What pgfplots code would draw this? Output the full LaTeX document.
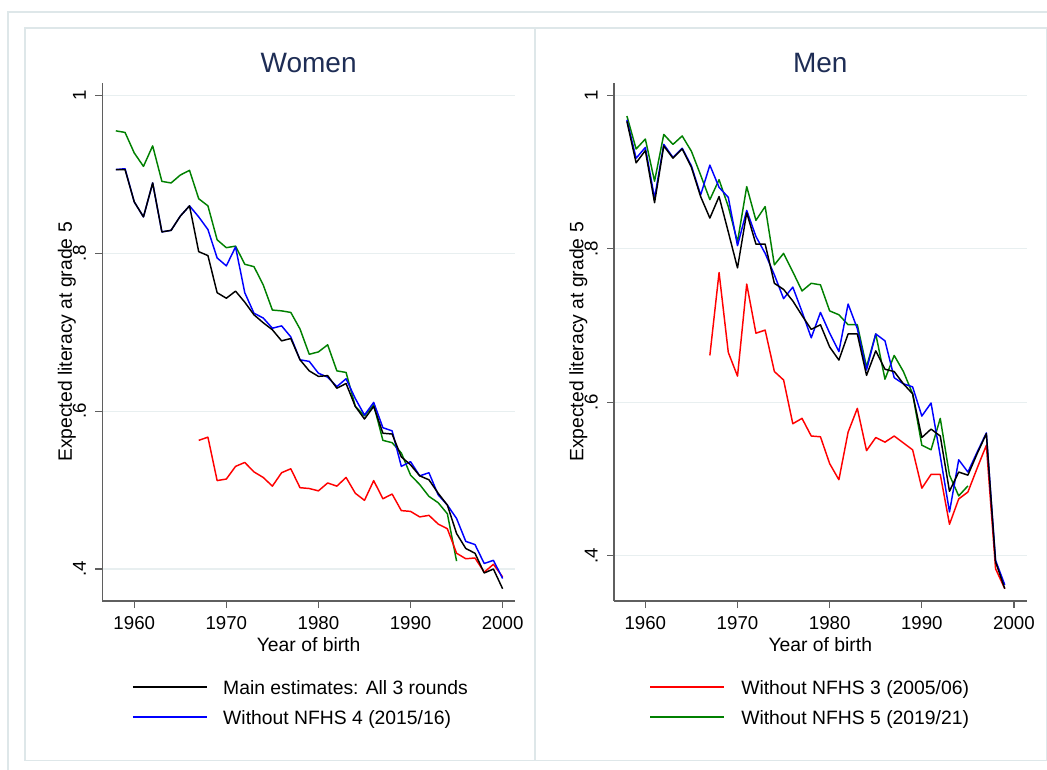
\documentclass[border=0pt]{standalone}
\usepackage{pgfplots}
\usepackage{pgfplotstable}
\pgfplotsset{compat=1.18}
\usepackage{fontspec}
\setmainfont{Liberation Sans}

\definecolor{stgreen}{RGB}{0,128,0}
\definecolor{stblue}{RGB}{0,0,255}
\definecolor{stred}{RGB}{255,0,0}
\definecolor{titlec}{RGB}{30,45,85}
\definecolor{axisc}{RGB}{95,95,95}
\definecolor{gridc}{RGB}{232,239,240}
\definecolor{framec}{RGB}{222,231,233}

% Women: expected literacy at grade 5 by year of birth
\pgfplotstableread{
year  main   wo4    wo5    wo3
1958  0.906  0.906  0.955  nan
1959  0.906  0.907  0.953  nan
1960  0.865  0.865  0.927  nan
1961  0.846  0.846  0.910  nan
1962  0.889  0.889  0.936  nan
1963  0.827  0.827  0.891  nan
1964  0.829  0.829  0.889  nan
1965  0.847  0.847  0.899  nan
1966  0.860  0.860  0.905  nan
1967  0.802  0.846  0.869  0.563
1968  0.797  0.830  0.860  0.567
1969  0.750  0.794  0.817  0.512
1970  0.743  0.784  0.807  0.514
1971  0.752  0.808  0.809  0.530
1972  0.738  0.750  0.786  0.535
1973  0.722  0.724  0.783  0.523
1974  0.712  0.718  0.760  0.516
1975  0.703  0.705  0.728  0.505
1976  0.689  0.708  0.727  0.522
1977  0.692  0.694  0.725  0.527
1978  0.665  0.665  0.704  0.503
1979  0.651  0.663  0.672  0.502
1980  0.644  0.648  0.675  0.499
1981  0.645  0.643  0.684  0.509
1982  0.629  0.631  0.651  0.505
1983  0.635  0.641  0.649  0.516
1984  0.606  0.616  0.606  0.496
1985  0.590  0.595  0.594  0.487
1986  0.606  0.611  0.608  0.512
1987  0.572  0.579  0.563  0.489
1988  0.571  0.575  0.560  0.495
1989  0.542  0.530  0.547  0.474
1990  0.532  0.536  0.519  0.473
1991  0.518  0.518  0.507  0.466
1992  0.513  0.522  0.492  0.468
1993  0.496  0.494  0.484  0.457
1994  0.481  0.481  0.470  0.451
1995  0.445  0.464  0.410  0.420
1996  0.426  0.435  nan    0.413
1997  0.420  0.431  nan    0.414
1998  0.395  0.407  nan    0.396
1999  0.400  0.411  nan    0.406
2000  0.375  0.388  nan    0.390
}\women

% Men: expected literacy at grade 5 by year of birth
\pgfplotstableread{
year  main   wo4    wo5    wo3
1958  0.966  0.968  0.973  nan
1959  0.912  0.918  0.930  nan
1960  0.928  0.932  0.943  nan
1961  0.860  0.866  0.888  nan
1962  0.934  0.936  0.949  nan
1963  0.918  0.919  0.936  nan
1964  0.930  0.931  0.947  nan
1965  0.906  0.908  0.927  nan
1966  0.868  0.870  0.896  nan
1967  0.840  0.909  0.864  0.661
1968  0.868  0.880  0.890  0.769
1969  0.822  0.867  0.855  0.665
1970  0.775  0.804  0.809  0.634
1971  0.847  0.850  0.881  0.754
1972  0.806  0.816  0.837  0.690
1973  0.806  0.794  0.855  0.694
1974  0.755  0.766  0.779  0.640
1975  0.747  0.735  0.794  0.629
1976  0.732  0.750  0.770  0.572
1977  0.713  0.718  0.745  0.579
1978  0.695  0.684  0.755  0.556
1979  0.701  0.717  0.753  0.555
1980  0.672  0.690  0.719  0.520
1981  0.655  0.666  0.714  0.499
1982  0.689  0.728  0.701  0.561
1983  0.689  0.696  0.701  0.592
1984  0.635  0.642  0.646  0.537
1985  0.667  0.689  0.689  0.554
1986  0.643  0.680  0.630  0.548
1987  0.640  0.632  0.661  0.556
1988  0.624  0.624  0.640  0.547
1989  0.611  0.620  0.611  0.538
1990  0.554  0.582  0.544  0.488
1991  0.565  0.599  0.538  0.506
1992  0.556  0.530  0.579  0.506
1993  0.484  0.457  0.505  0.441
1994  0.509  0.525  0.478  0.474
1995  0.505  0.509  0.491  0.483
1996  0.533  0.535  nan    0.514
1997  0.559  0.560  nan    0.544
1998  0.392  0.394  nan    0.383
1999  0.357  0.362  nan    0.357
}\men

\pgfplotsset{
  panel/.style={
    scale only axis, width=309.5pt, height=388.5pt,
    anchor=south west,
    axis x line*=bottom, axis y line*=left,
    xtick={1960,1970,1980,1990,2000},
    xticklabels={1960,1970,1980,1990,2000},
    ytick={0.4,0.6,0.8,1},
    yticklabels={.4,.6,.8,1},
    tick align=outside, major tick length=5.25pt,
    axis line style={draw=axisc, line width=0.9pt},
    every tick/.style={draw=axisc, line width=0.9pt},
    ymajorgrids, grid style={draw=gridc, line width=0.9pt},
    tick label style={font=\fontsize{14}{16}\selectfont, text=black},
    yticklabel style={rotate=90, anchor=base},
    yticklabel shift=7pt,
    xticklabel shift=3pt,
    title style={font=\fontsize{21}{25}\selectfont, text=titlec,
      at={(axis description cs:0.5,1)}, anchor=base, yshift=1.7pt},
    label style={font=\fontsize{14.5}{17}\selectfont},
    xlabel={Year of birth},
    xlabel style={at={(axis description cs:0.5,0)}, anchor=base, yshift=-37.5pt},
    ylabel={Expected literacy at grade 5},
    ylabel style={at={(axis description cs:-0.074,0.5)}, anchor=base},
    unbounded coords=jump,
  },
  est/.style={line width=1.1pt, line join=round},
}

% legend labels below each panel
\tikzset{keytext/.style={anchor=base west, inner sep=0pt,
  font=\fontsize{14.5}{17}\selectfont}}

\begin{document}
\begin{tikzpicture}
\path[use as bounding box] (0pt,0pt) rectangle (785.25pt,-577.5pt);
% graph and panel frames
\draw[framec, line width=0.8pt] (6pt,-9pt) rectangle (800pt,-600pt);
\draw[framec, line width=0.8pt] (18.75pt,-21pt) rectangle (401.25pt,-570.5pt);
\draw[framec, line width=0.8pt] (401.25pt,-21pt) rectangle (784.6pt,-570.5pt);

\begin{axis}[panel, name=W, at={(76.725pt,-450.75pt)},
  xmin=1956.53, xmax=2001.34, ymin=0.3595, ymax=1.0156,
  title={Women}]
  \addplot[est, stgreen] table[x=year, y=wo5] {\women};
  \addplot[est, stred]   table[x=year, y=wo3] {\women};
  \addplot[est, stblue]  table[x=year, y=wo4] {\women};
  \addplot[est, black]   table[x=year, y=main] {\women};
\end{axis}

\begin{axis}[panel, name=M, at={(460.5pt,-450.75pt)}, width=309.4pt,
  xmin=1956.6, xmax=2001.36, ymin=0.341, ymax=1.016,
  title={Men}]
  \addplot[est, stgreen] table[x=year, y=wo5] {\men};
  \addplot[est, stred]   table[x=year, y=wo3] {\men};
  \addplot[est, stblue]  table[x=year, y=wo4] {\men};
  \addplot[est, black]   table[x=year, y=main] {\men};
\end{axis}

% legends
\draw[black, line width=1.1pt]  ([shift={(23pt,-64.5pt)}]W.south west) -- ++(55.5pt,0pt);
\node[keytext] at ([shift={(90.5pt,-69.75pt)}]W.south west) {Main estimates: All 3 rounds};
\draw[stblue, line width=1.1pt] ([shift={(23pt,-87pt)}]W.south west) -- ++(55.5pt,0pt);
\node[keytext] at ([shift={(90.5pt,-92.25pt)}]W.south west) {Without NFHS 4 (2015/16)};

\draw[stred, line width=1.1pt]   ([shift={(27pt,-64.5pt)}]M.south west) -- ++(55.5pt,0pt);
\node[keytext] at ([shift={(95.25pt,-69.75pt)}]M.south west) {Without NFHS 3 (2005/06)};
\draw[stgreen, line width=1.1pt] ([shift={(27pt,-87pt)}]M.south west) -- ++(55.5pt,0pt);
\node[keytext] at ([shift={(95.25pt,-92.25pt)}]M.south west) {Without NFHS 5 (2019/21)};
\end{tikzpicture}
\end{document}
